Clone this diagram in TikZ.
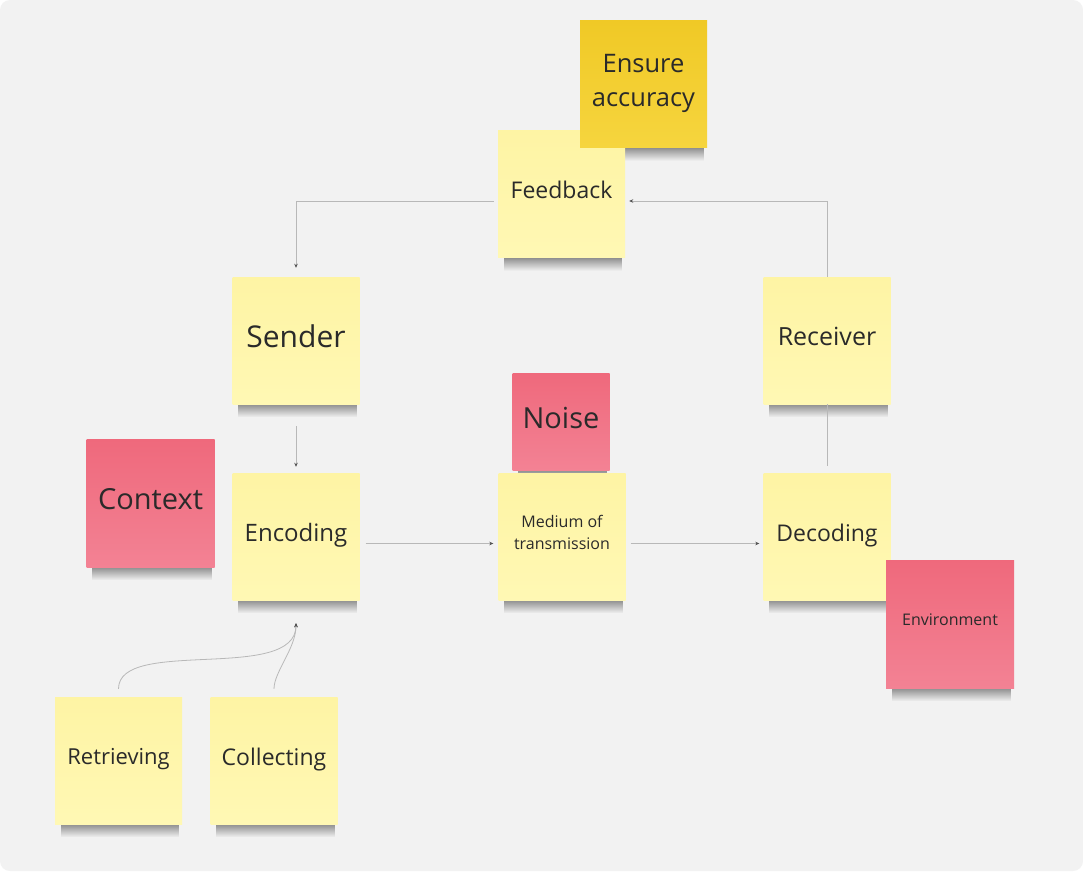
\documentclass[tikz,border=0pt]{standalone}
\usepackage{fontspec}
\setmainfont{Open Sans}
\usetikzlibrary{arrows.meta,backgrounds,fadings}
\definecolor{boardGray}{HTML}{F2F2F2}
\definecolor{inkGray}{HTML}{2A2A2A}
\definecolor{linkGray}{HTML}{B8B8B8}
\definecolor{tipGray}{HTML}{505050}
\definecolor{yellowTop}{HTML}{FEF4A4}
\definecolor{yellowBot}{HTML}{FFF8B4}
\definecolor{redTop}{HTML}{EF697C}
\definecolor{redBot}{HTML}{F38294}
\definecolor{goldTop}{HTML}{F0C926}
\definecolor{goldBot}{HTML}{F6D53E}
\newcommand\notefont[2]{\fontsize{#1}{#2}\selectfont}
\tikzfading[name=noteshade, top color=transparent!40, bottom color=transparent!100]

\begin{document}
\begin{tikzpicture}[x=1pt,y=-1pt]
\tikzstyle{note}=[rectangle,minimum size=127pt,inner sep=0pt,align=center,text depth=8pt,text=inkGray,top color=yellowTop,bottom color=yellowBot]
\tikzstyle{redNote}=[note,top color=redTop,bottom color=redBot]
\tikzstyle{goldNote}=[note,top color=goldTop,bottom color=goldBot]
\tikzstyle{link}=[draw=linkGray,line width=0.8pt,-{Stealth[length=4pt,width=3.5pt,color=tipGray]}]
\tikzstyle{plain}=[draw=linkGray,line width=0.8pt]

%board.
\begin{scope}[on background layer]
\fill[white] (0,0) rectangle (1083,871);
\fill[boardGray,rounded corners=10pt] (0,0) rectangle (1083,871);
\end{scope}

\node[note,font=\notefont{23}{31}] (feedback) at (561.5,194) {Feedback};
\node[goldNote,font=\notefont{25.5}{34}] (accuracy) at (643.5,84) {Ensure\\accuracy};

\node[note,font=\notefont{30}{40}] (sender) at (296,340.5) {Sender};
\node[note,font=\notefont{25}{34}] (receiver) at (827,340.5) {Receiver};

\node[redNote,minimum size=128pt,font=\notefont{29}{39}] (context) at (150.5,503) {Context};
\node[note,font=\notefont{24}{32}] (encoding) at (296,536.5) {Encoding};
\node[note,font=\notefont{16}{22}] (medium) at (562,536.5) {Medium of\\transmission};
\node[redNote,minimum size=97pt,font=\notefont{29}{39}] (noise) at (561,421.5) {Noise};
\node[note,font=\notefont{23}{31}] (decoding) at (827,536.5) {Decoding};
\node[redNote,minimum size=128pt,font=\notefont{16}{22}] (environment) at (950,624) {Environment};

\node[note,font=\notefont{22}{30}] (retrieving) at (118.5,760.5) {Retrieving};
\node[note,font=\notefont{23}{31}] (collecting) at (274,760.5) {Collecting};

%shadows under the notes.
\begin{scope}[on background layer]
\foreach \n in {feedback,accuracy,sender,receiver,context,encoding,medium,noise,decoding,environment,retrieving,collecting}
  \fill[black!75,path fading=noteshade] ([xshift=6pt,yshift=1pt]\n.south west) rectangle ([xshift=-3pt,yshift=-13pt]\n.south east);
\end{scope}

\draw[link,shorten <=4pt,shorten >=9pt] ([yshift=-7pt]feedback.west) -| (sender.north);
\draw[link,shorten >=4pt] (receiver.north) |- ([yshift=-7pt]feedback.east);
\draw[link,shorten <=22pt,shorten >=6pt] (sender) -- (encoding);
\draw[plain,shorten <=7pt] (decoding) -- (receiver);

\draw[link,shorten <=6pt,shorten >=5pt] ([yshift=-7pt]encoding.east) -- ([yshift=-7pt]medium.west);
\draw[link,shorten <=5pt,shorten >=4pt] ([yshift=-7pt]medium.east) -- ([yshift=-7pt]decoding.west);

\coordinate (encodingIn) at ([yshift=-23pt]encoding.south);
\draw[link,shorten <=8pt] (retrieving.north) .. controls +(0,-60) and +(0,60) .. (encodingIn);
\draw[link,shorten <=8pt] (collecting.north) .. controls +(0,-25) and +(0,25) .. (encodingIn);

\end{tikzpicture}
\end{document}
